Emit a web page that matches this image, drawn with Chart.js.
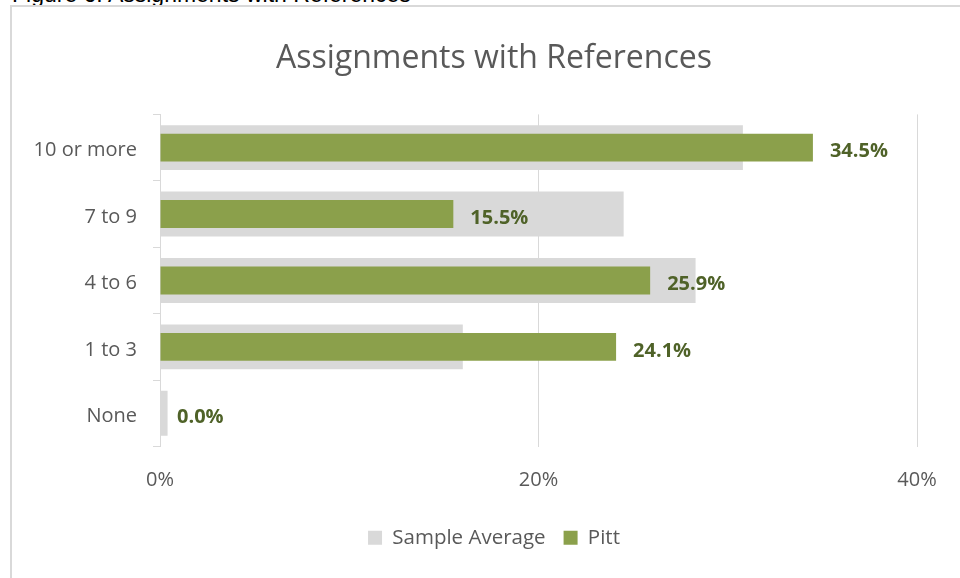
<!DOCTYPE html>
<html>
<head>
<meta charset="utf-8">
<script src="https://cdn.jsdelivr.net/npm/chart.js@4"></script>
<style>
  html, body { margin: 0; padding: 0; background: #fff; overflow: hidden; }
  body { width: 960px; height: 578px; position: relative; }
  #caption { position: absolute; left: 12px; top: -17px; font: 23px/23px "Liberation Sans", Arial, sans-serif; color: #000; white-space: nowrap; }
  #frame { position: absolute; left: 10px; top: 5px; width: 1000px; height: 640px; border: 2px solid #d9d9d9; box-sizing: border-box; }
  #wrap { position: absolute; left: 0; top: 0; width: 988px; height: 578px; }
</style>
</head>
<body>
<div id="caption">Figure 6: Assignments with References</div>
<div id="frame"></div>
<div id="wrap"><canvas id="grafico"></canvas></div>
<script>
const categorias = ['10 or more', '7 to 9', '4 to 6', '1 to 3', 'None'];
const mediaAmostra = [30.8, 24.5, 28.3, 16.0, 0.4];
const pitt = [34.5, 15.5, 25.9, 24.1, 0.0];
const ticksX = [0, 20, 40];

const cinzaTexto = '#595959';
const verde = '#8ba04b';

// rotulos ao lado das barras verdes
const rotulos = {
    id: 'rotulos',
    afterLayout(chart) {
        // deixa os nomes das categorias sairem para a esquerda da caixa do eixo
        chart.scales.y.left = 0;
    },
    afterDatasetsDraw(chart) {
        const meta = chart.getDatasetMeta(0);
        const c = chart.ctx;
        c.save();
        c.font = 'bold 20px "Open Sans"';
        c.fillStyle = '#4f6228';
        c.textBaseline = 'middle';
        c.textAlign = 'left';
        meta.data.forEach((bar, i) => {
            c.fillText(pitt[i].toFixed(1) + '%', bar.x + 17, bar.y + 4);
        });
        c.restore();
    }
};

new Chart(document.getElementById('grafico').getContext('2d'), {
    type: 'bar',
    data: {
        labels: categorias,
        datasets: [{
            label: 'Pitt',
            data: pitt,
            backgroundColor: verde,
            borderWidth: 0,
            barPercentage: 0.42,
            categoryPercentage: 1
        }, {
            label: 'Sample Average',
            data: mediaAmostra,
            backgroundColor: '#d9d9d9',
            borderWidth: 0,
            barPercentage: 0.676,
            categoryPercentage: 1
        }]
    },
    options: {
        indexAxis: 'y',
        responsive: true,
        maintainAspectRatio: false,
        animation: false,
        grouped: false,
        layout: {
            // padding simetrica para centrar titulo e legenda em x=494
            padding: { left: 71, right: 71, top: 0, bottom: 20 }
        },
        plugins: {
            title: {
                display: true,
                text: 'Assignments with References',
                color: cinzaTexto,
                font: { family: 'Open Sans', size: 32, weight: 'normal' },
                padding: { top: 40, bottom: 36 }
            },
            legend: {
                position: 'bottom',
                labels: {
                    boxWidth: 14,
                    boxHeight: 14,
                    color: cinzaTexto,
                    font: { family: 'Open Sans', size: 20.5 },
                    padding: 18,
                    sort: (a, b) => b.datasetIndex - a.datasetIndex
                }
            },
            tooltip: { enabled: false }
        },
        scales: {
            x: {
                min: 0,
                max: 40,
                afterBuildTicks: (scale) => {
                    scale.ticks = ticksX.map(v => ({ value: v }));
                },
                afterFit: (scale) => { scale.height = 63; },
                ticks: {
                    color: cinzaTexto,
                    font: { family: 'Open Sans', size: 20 },
                    padding: 22,
                    callback: (v) => v + '%'
                },
                grid: {
                    color: '#d9d9d9',
                    drawTicks: false
                },
                border: { display: false }
            },
            y: {
                afterFit: (scale) => { scale.width = 89; },
                ticks: {
                    color: cinzaTexto,
                    font: { family: 'Open Sans', size: 20 },
                    padding: 16,
                    labelOffset: 3
                },
                grid: {
                    drawOnChartArea: false,
                    drawTicks: true,
                    tickLength: 7,
                    color: '#d9d9d9',
                    offset: true
                },
                border: { display: true, color: '#d9d9d9' }
            }
        }
    },
    plugins: [rotulos]
});
</script>
</body>
</html>
